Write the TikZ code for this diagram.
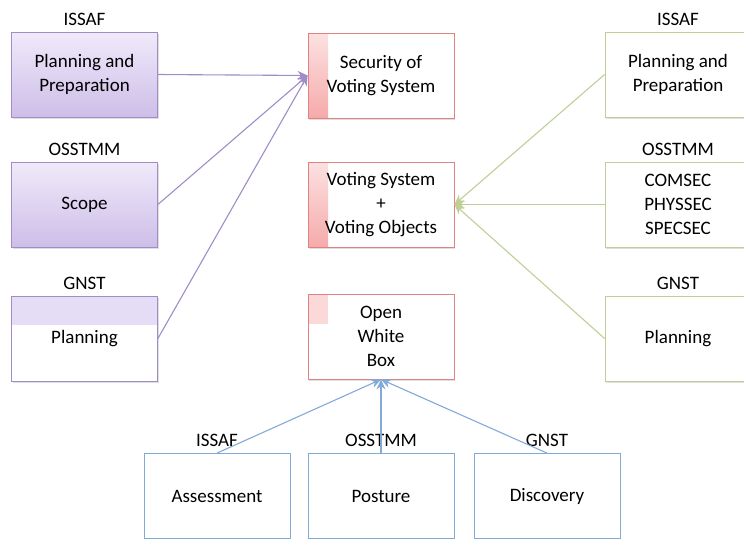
\documentclass[tikz,border=0pt]{standalone}
\usepackage{fontspec}
\setmainfont{Carlito}
\usetikzlibrary{arrows.meta,positioning,shadows}
\definecolor{pline}{RGB}{160,140,200}
\definecolor{ptop}{RGB}{240,234,250}
\definecolor{pbot}{RGB}{205,190,232}
\definecolor{rline}{RGB}{224,130,130}
\definecolor{rstrip}{RGB}{246,170,170}
\definecolor{gline}{RGB}{190,208,150}
\definecolor{bline}{RGB}{130,170,215}
\tikzset{
  box/.style    ={rectangle, line width=0.8pt, align=center, fill=white,
                  minimum width=146pt, minimum height=85pt,
                  font=\fontsize{19}{24}\selectfont,
                  drop shadow={shadow xshift=1pt, shadow yshift=-1.5pt, opacity=0.25}},
  pbox/.style   ={box, draw=pline, top color=ptop, bottom color=pbot},
  rbox/.style   ={box, draw=rline, path picture={
                  \shade[top color=rstrip!35, bottom color=rstrip]
                  (path picture bounding box.north west) rectangle
                  ([xshift=20pt]path picture bounding box.south west);}},
  gbox/.style   ={box, draw=gline},
  bbox/.style   ={box, draw=bline},
  lbl/.style    ={font=\fontsize{19}{24}\selectfont, inner sep=2pt, label distance=4pt},
  flow/.style   ={-{Stealth[length=10pt, width=9pt]}, line width=1.1pt},
}
\begin{document}
\begin{tikzpicture}[x=1pt, y=-1pt]
    \useasboundingbox (0,0) rectangle (744,538);
    % left column
    \node[pbox, label={[lbl]above:ISSAF}] (lplan) at (84.5,74.5) {Planning and\\Preparation};
    \node[pbox, label={[lbl]above:OSSTMM}] (lscope) at (84.5,204.5) {Scope};
    \node[box, draw=pline, label={[lbl]above:GNST}, path picture={
            \fill[ptop!70!pbot] (path picture bounding box.north west) rectangle
            ([yshift=-29pt]path picture bounding box.north east);}]
          (lgnst) at (84.5,338.5) {Planning};

    % middle column
    \node[rbox] (sec) at (381,75.5) {Security of\\Voting System};
    \node[rbox] (obj) at (381,204.5) {Voting System\\+\\Voting Objects};
    \node[box, draw=rline, path picture={
            \fill[rstrip!45] (path picture bounding box.north west) rectangle
            ([xshift=20pt, yshift=-30pt]path picture bounding box.north west);}]
          (owb) at (381,336.5) {Open\\White\\Box};

    % right column
    \node[gbox, label={[lbl]above:ISSAF}] (rplan) at (678,74.5) {Planning and\\Preparation};
    \node[gbox, label={[lbl]above:OSSTMM}] (rsec) at (678,204.5) {COMSEC\\PHYSSEC\\SPECSEC};
    \node[gbox, label={[lbl]above:GNST}] (rgnst) at (678,338.5) {Planning};

    % bottom row
    \node[bbox, label={[lbl]above:ISSAF}] (assess) at (217,496) {Assessment};
    \node[bbox, label={[lbl]above:OSSTMM}] (post) at (381,496) {Posture};
    \node[bbox, label={[lbl]above:GNST}] (disc) at (547,496) {Discovery};

    % flows
    \foreach \src in {lplan, lscope, lgnst}
      \draw[flow, draw=pline] (\src.east) -- (sec.west);
    \foreach \src in {rplan, rsec, rgnst}
      \draw[flow, draw=gline] (\src.west) -- (obj.east);
    \foreach \src in {assess, post, disc}
      \draw[flow, draw=bline] (\src.north) -- (owb.south);
\end{tikzpicture}
\end{document}
